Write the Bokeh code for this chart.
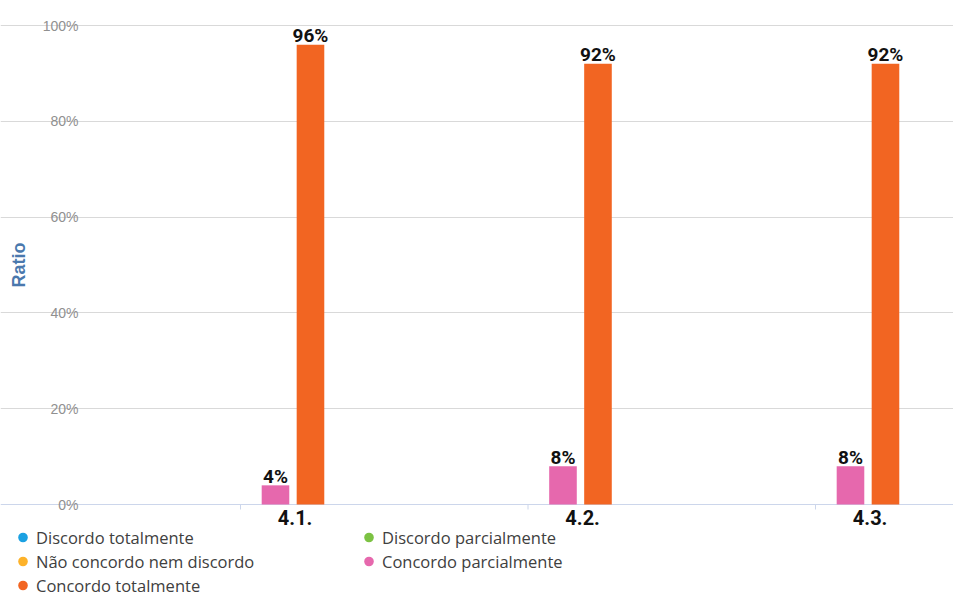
import math
from bokeh.plotting import figure
from bokeh.models import FixedTicker, Range1d, Legend, LegendItem, ColumnDataSource, Grid
from bokeh.core.properties import value
from bokeh.embed import file_html
from bokeh.resources import INLINE

# ---- data ----
categories = ["4.1.", "4.2.", "4.3."]
series_names = ["Discordo totalmente", "Discordo parcialmente",
                "Não concordo nem discordo", "Concordo parcialmente",
                "Concordo totalmente"]
series_colors = ["#1ba1e2", "#7cc243", "#fdb22a", "#e668ad", "#f26522"]
discordo_totalmente = [0, 0, 0]
discordo_parcialmente = [0, 0, 0]
nao_concordo_nem_discordo = [0, 0, 0]
concordo_parcialmente = [4, 8, 8]
concordo_totalmente = [96, 92, 92]
series_values = [discordo_totalmente, discordo_parcialmente,
                 nao_concordo_nem_discordo, concordo_parcialmente,
                 concordo_totalmente]
y_ticks = [0, 20, 40, 60, 80, 100]
y_tick_labels = ["0%", "20%", "40%", "60%", "80%", "100%"]
y_title = "Ratio"

# ---- layout (pixels) ----
W, H = 953, 597
plot_left_px = 82          # left edge of the plotting area
cat0_px, cat_step_px = 240, 287.5
y0_px, y100_px = 504, 25
px_per_y = (y0_px - y100_px) / 100.0

x_start = -cat0_px / cat_step_px
x_end = (W - cat0_px) / cat_step_px
y_end = 100 + y100_px / px_per_y
y_start = -(H - y0_px) / px_per_y
plot_left_x = x_start + plot_left_px / cat_step_px

p = figure(width=W, height=H, output_backend="svg", toolbar_location=None,
           x_range=Range1d(x_start, x_end), y_range=Range1d(y_start, y_end),
           x_axis_location=None, y_axis_location=None,
           min_border_left=0, min_border_right=0, min_border_top=0,
           min_border_bottom=0)
p.outline_line_color = None
p.background_fill_color = "white"
p.border_fill_color = "white"
p.xgrid.grid_line_color = None
p.ygrid.grid_line_color = None

# horizontal grid lines
grid = Grid(dimension=1, ticker=FixedTicker(ticks=y_ticks[1:]),
            bounds=(plot_left_x, x_end), grid_line_color="#d9d9d9")
p.add_layout(grid)
axis_line = Grid(dimension=1, ticker=FixedTicker(ticks=[0]),
                 bounds=(plot_left_x, x_end), grid_line_color="#ccd6eb")
p.add_layout(axis_line)

# bars + data labels
n = len(series_names)
step = 0.1217
bar_w = 0.096
legend_items = []
for k, (name, color, vals) in enumerate(zip(series_names, series_colors, series_values)):
    off = (k - (n - 1) / 2) * step
    xs = [i + off for i in range(len(categories))]
    src = ColumnDataSource(dict(x=xs, top=vals))
    p.vbar(x="x", top="top", width=bar_w, bottom=0, source=src,
           fill_color=color, line_color=None)
    lx = [x for x, v in zip(xs, vals) if v > 0]
    ly = [v for v in vals if v > 0]
    lt = [f"{v}%" for v in vals if v > 0]
    if lx:
        p.text(x=lx, y=ly, text=lt, text_align="center", text_baseline="alphabetic",
               y_offset=-9, text_font=value("Roboto"),
               text_font_style="bold", text_font_size="19px", text_color="#111111")
    # invisible (size 0) markers that give the legend its round symbols
    r = p.scatter(x="x", y="top", source=src, marker="circle", size=0,
                  fill_color=color, line_color=None)
    legend_items.append(LegendItem(label=name, renderers=[r]))

# category ticks and labels
cat_x = list(range(len(categories)))
tick_len = 5 / px_per_y
p.segment(x0=cat_x, y0=[0] * len(cat_x), x1=cat_x, y1=[-tick_len] * len(cat_x),
          line_color="#ccd6eb", line_width=1)
lab_off = 0.19
p.text(x=[i + lab_off for i in cat_x], y=[0] * len(cat_x), text=categories,
       text_align="center", text_baseline="top", y_offset=5,
       text_font=value("Roboto"), text_font_style="bold", text_font_size="20px",
       text_color="#111111")

# y tick labels
p.text(x=[x_start] * len(y_ticks), y=y_ticks, text=y_tick_labels,
       text_align="right", text_baseline="middle", x_offset=plot_left_px - 4,
       text_font=value("Liberation Sans"), text_font_size="14px", text_color="#909090")
# y title
p.text(x=[x_start], y=[(y_ticks[0] + y_ticks[-1]) / 2], text=[y_title],
       angle=math.pi / 2, text_align="center", text_baseline="middle", x_offset=18,
       text_font=value("Liberation Sans"), text_font_style="bold",
       text_font_size="18px", text_color="#4a78ad")

legend = Legend(items=legend_items, location=(10, 0), orientation="horizontal",
                ncols=2, glyph_width=25, glyph_height=24, label_height=24,
                label_standoff=1, label_width=320, spacing=0, padding=0, margin=0,
                border_line_color=None, background_fill_alpha=0,
                label_text_font="Open Sans", label_text_font_size="16.5px",
                label_text_color="#404040")
p.add_layout(legend)

open("out.html", "w").write(file_html(p, INLINE))
